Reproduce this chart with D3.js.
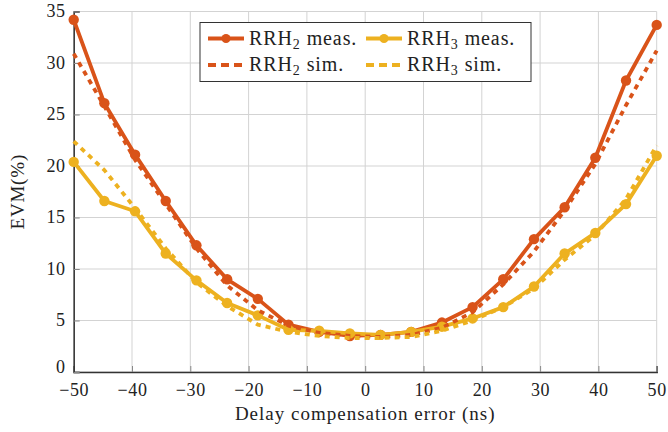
<!DOCTYPE html>
<html>
<head>
<meta charset="utf-8">
<script src="https://cdn.jsdelivr.net/npm/d3@7/dist/d3.min.js"></script>
<style>
  html, body { margin: 0; padding: 0; background: #fff; }
  svg { display: block; }
  text { font-family: "Liberation Serif", "DejaVu Serif", serif; fill: #222; }
</style>
</head>
<body>
<svg id="chart" width="668" height="432"></svg>
<script>
// Delay compensation error (ns), evenly spaced sweep
const delayErr = [-50, -44.74, -39.47, -34.21, -28.95, -23.68, -18.42, -13.16, -7.89, -2.63,
                  2.63, 7.89, 13.16, 18.42, 23.68, 28.95, 34.21, 39.47, 44.74, 50];

// EVM (%) per series
const rrh2Meas = [34.2, 26.1, 21.1, 16.6, 12.3, 9.0, 7.1, 4.6, 3.9, 3.5,
                  3.6, 3.9, 4.8, 6.3, 9.0, 12.9, 16.0, 20.8, 28.3, 33.7];
const rrh3Meas = [20.4, 16.6, 15.6, 11.5, 8.9, 6.7, 5.5, 4.1, 4.0, 3.75,
                  3.6, 3.9, 4.4, 5.2, 6.3, 8.3, 11.5, 13.5, 16.3, 21.0];
const rrh2Sim  = [30.9, 25.8, 20.6, 16.3, 12.0, 8.4, 6.0, 4.5, 3.8, 3.5,
                  3.4, 3.6, 4.3, 5.8, 8.5, 11.7, 15.7, 20.2, 25.9, 31.2];
const rrh3Sim  = [22.4, 19.6, 15.9, 12.0, 8.7, 6.4, 4.6, 3.9, 3.5, 3.3,
                  3.3, 3.4, 4.0, 5.0, 6.3, 8.1, 10.9, 13.3, 16.8, 22.0];

const xTicks = [-50, -40, -30, -20, -10, 0, 10, 20, 30, 40, 50];
const yTicks = [0, 5, 10, 15, 20, 25, 30, 35];

const RED = "#D95319", YELLOW = "#EDB120";

const series = [
  { name: "RRH", sub: "2", tail: " meas.", values: rrh2Meas, color: RED, dashed: false },
  { name: "RRH", sub: "3", tail: " meas.", values: rrh3Meas, color: YELLOW, dashed: false },
  { name: "RRH", sub: "2", tail: " sim.", values: rrh2Sim, color: RED, dashed: true },
  { name: "RRH", sub: "3", tail: " sim.", values: rrh3Sim, color: YELLOW, dashed: true }
];

const svg = d3.select("#chart");
const plotL = 73.7, plotR = 656.7, plotT = 11.5, plotB = 372;
const SERIF = "'Liberation Serif', 'DejaVu Serif', serif";

const x = d3.scaleLinear().domain([-50, 50]).range([plotL, plotR]);
const y = d3.scaleLinear().domain([0, 35]).range([plotB, plotT]);

// grid
const grid = svg.append("g");
grid.selectAll("line.vx").data(xTicks).join("line")
  .attr("x1", d => x(d)).attr("x2", d => x(d))
  .attr("y1", plotT).attr("y2", plotB)
  .attr("stroke", "#d3d3d3").attr("stroke-width", 1);
grid.selectAll("line.hy").data(yTicks).join("line")
  .attr("x1", plotL).attr("x2", plotR)
  .attr("y1", d => y(d)).attr("y2", d => y(d))
  .attr("stroke", "#d3d3d3").attr("stroke-width", 1);

// axes
const xAxis = d3.axisBottom(x).tickValues(xTicks).tickSize(-6).tickPadding(11)
  .tickFormat(d => d < 0 ? "\u2212" + Math.abs(d) : String(d));
const yAxis = d3.axisLeft(y).tickValues(yTicks).tickSize(-6).tickPadding(8);

const gx = svg.append("g").attr("transform", `translate(0,${plotB})`).call(xAxis);
const gy = svg.append("g").attr("transform", `translate(${plotL},0)`).call(yAxis);
[gx, gy].forEach(g => {
  g.attr("font-family", null);
  g.select(".domain").attr("stroke", "#333").attr("stroke-width", 1.5);
  g.selectAll(".tick line").attr("stroke", "#888").attr("stroke-width", 1);
  g.selectAll(".tick text").style("font-family", SERIF)
    .style("font-size", "18px").style("letter-spacing", "0.6px").attr("fill", "#222");
});
// the zero label sits in the corner just above the x labels
gy.selectAll(".tick text").attr("dy", d => d === 0 ? "0.05em" : "0.3em");

// series
const line = d3.line().x((d, i) => x(delayErr[i])).y(d => y(d));
series.forEach(s => {
  const g = svg.append("g");
  g.append("path").datum(s.values)
    .attr("d", line)
    .attr("fill", "none")
    .attr("stroke", s.color)
    .attr("stroke-width", 3.8)
    .attr("stroke-linejoin", "round")
    .attr("stroke-dasharray", s.dashed ? "5,5" : null);
  if (!s.dashed) {
    g.selectAll("circle").data(s.values).join("circle")
      .attr("cx", (d, i) => x(delayErr[i])).attr("cy", d => y(d))
      .attr("r", 5.2).attr("fill", s.color);
  }
});

// axis titles
svg.append("text")
  .attr("x", (plotL + plotR) / 2).attr("y", 420)
  .attr("text-anchor", "middle")
  .style("font-family", SERIF).style("font-size", "19px").style("letter-spacing", "1px")
  .text("Delay compensation error (ns)");
svg.append("text")
  .attr("transform", `translate(24,${(plotT + plotB) / 2}) rotate(-90)`)
  .attr("text-anchor", "middle")
  .style("font-family", SERIF).style("font-size", "19px").style("letter-spacing", "0.8px")
  .text("EVM(%)");

// legend
const lg = svg.append("g");
lg.append("rect").attr("x", 200).attr("y", 22.5).attr("width", 331).attr("height", 59)
  .attr("fill", "#fff").attr("stroke", "#333").attr("stroke-width", 1);
const cols = [208, 366], rows = [38.5, 65];
series.forEach((s, k) => {
  const cx = cols[k % 2], cy = rows[Math.floor(k / 2)];
  lg.append("line").attr("x1", cx).attr("x2", cx + 36).attr("y1", cy).attr("y2", cy)
    .attr("stroke", s.color).attr("stroke-width", 3.8)
    .attr("stroke-dasharray", s.dashed ? "8,5" : null);
  if (!s.dashed) {
    lg.append("circle").attr("cx", cx + 18).attr("cy", cy).attr("r", 4.5).attr("fill", s.color);
  }
  const t = lg.append("text").attr("x", cx + 41).attr("y", cy + 6)
    .style("font-family", SERIF).style("font-size", "20px").style("letter-spacing", "0.9px");
  t.append("tspan").text(s.name);
  t.append("tspan").attr("dy", 4).style("font-size", "14px").text(s.sub);
  t.append("tspan").attr("dy", -4).text(s.tail);
});
</script>
</body>
</html>
